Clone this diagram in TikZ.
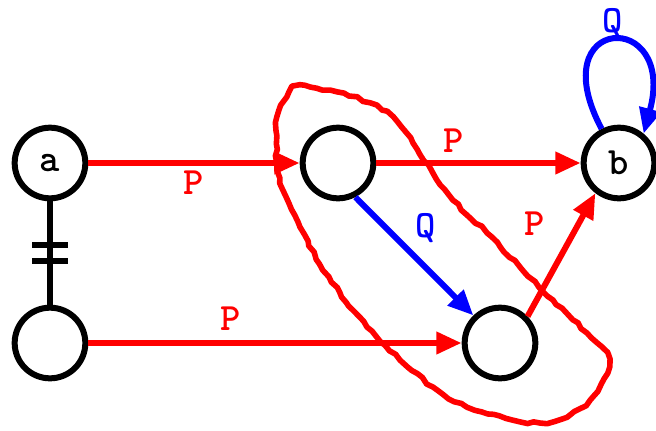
\documentclass[tikz,border=0pt]{standalone}
\usepackage{fontspec}
\usetikzlibrary{arrows.meta,calc,positioning,decorations.pathmorphing}
\newcommand{\lblfont}{\ttfamily\bfseries\addfontfeatures{FakeBold=3}\fontsize{29}{29}\selectfont}

\begin{document}
\begin{tikzpicture}[x=0.75pt,y=0.75pt,
  st/.style={circle,draw,line width=4.5pt,minimum size=53pt,inner sep=0pt,font=\lblfont},
  tr/.style={line width=4.5pt,-{Triangle[length=19pt,width=16pt]}},
  lab/.style={font=\lblfont}]
  \useasboundingbox (0,0) rectangle (656,430);
  % states
  \node[st] (a) at (50,267) {a};
  \node[st] (c) at (50,87) {};
  \node[st] (p) at (338,267) {};
  \node[st] (q) at (500,87) {};
  \node[st] (b) at (619,267) {b};
  % equivalence a = c
  \draw[line width=4.5pt] (a) -- (c) coordinate[midway] (ac);
  \draw[line width=4.5pt] ($(ac)+(-18,8)$) -- ++(36,0);
  \draw[line width=4.5pt] ($(ac)+(-18,-8)$) -- ++(36,0);
  % transitions
  \draw[tr,red] (a) -- node[lab,below] {P} (p);
  \draw[tr,red] (c) -- node[lab,above=4pt,pos=0.38] {P} (q);
  \draw[tr,red] (p) -- node[lab,above=2pt,pos=0.38] {P} (b);
  \draw[tr,blue] (p.-63) -- node[lab,above right,pos=0.45] {Q} (q.134);
  \draw[tr,red] (q.44) -- node[lab,above left=0pt and 12pt,pos=0.6] {P} (b.232);
  \draw[tr,blue] (b.117) .. controls +(118:130) and +(75:130) .. (b.50)
    node[lab,pos=0.5,above=-3pt] {Q};
  % the class {p,q}
  \draw[red,line width=4.2pt,line join=round,decorate,
    decoration={random steps,segment length=5pt,amplitude=1pt}]
    plot[smooth cycle] coordinates {(293,343) (310,343) (337,338) (370,327)
    (393,313) (413,287) (433,257) (453,230) (487,197) (520,163) (553,130)
    (587,97) (607,77) (607,57) (590,30) (567,13) (547,7) (513,10) (467,23)
    (433,43) (400,70) (367,103) (340,137) (323,160) (300,203) (283,240)
    (277,267) (277,313) (287,333)};
\end{tikzpicture}
\end{document}
